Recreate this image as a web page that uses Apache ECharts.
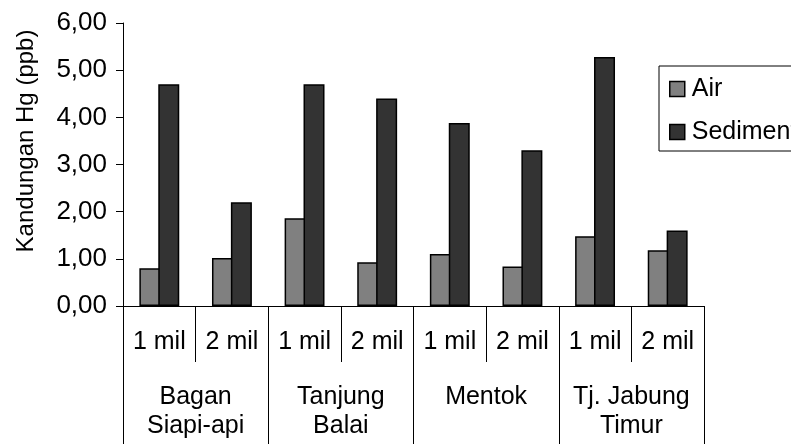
<!DOCTYPE html>
<html>
<head>
<meta charset="utf-8">
<script src="https://cdn.jsdelivr.net/npm/echarts@6/dist/echarts.min.js"></script>
<style>
  html, body { margin: 0; padding: 0; background: #fff; }
  #chart { width: 791px; height: 444px; }
</style>
</head>
<body>
<div id="chart"></div>
<script>
// Distance from shore per sampling point
const distances = ['1 mil', '2 mil', '1 mil', '2 mil', '1 mil', '2 mil', '1 mil', '2 mil'];
// Sampling locations (two distances each)
const locations = ['Bagan\nSiapi-api', 'Tanjung\nBalai', 'Mentok', 'Tj. Jabung\nTimur'];
// Hg content (ppb)
const airValues = [0.80, 1.02, 1.86, 0.93, 1.10, 0.84, 1.48, 1.18];
const sedimenValues = [4.70, 2.20, 4.70, 4.40, 3.88, 3.30, 5.28, 1.60];
// Y axis tick labels (0..6)
const yTickLabels = ['0,00', '1,00', '2,00', '3,00', '4,00', '5,00', '6,00'];

const FONT = 'Liberation Sans, Arial, sans-serif';
const chart = echarts.init(document.getElementById('chart'), null, { renderer: 'canvas' });

chart.setOption({
  animation: false,
  backgroundColor: '#ffffff',
  textStyle: { fontFamily: FONT, color: '#000' },
  grid: { left: 123, right: 87, top: 23, bottom: 138, containLabel: false },
  legend: {
    orient: 'vertical',
    left: 659,
    top: 66,
    padding: [9, 10, 5, 10],
    itemWidth: 15,
    itemHeight: 15,
    itemGap: 15,
    borderColor: '#000',
    borderWidth: 1,
    backgroundColor: '#fff',
    icon: 'rect',
    textStyle: { fontFamily: FONT, fontSize: 25, color: '#000', lineHeight: 28, padding: [0, 0, 0, 2] },
    itemStyle: { borderColor: '#000', borderWidth: 1.5 },
    data: ['Air', 'Sediment']
  },
  graphic: [{
    type: 'text',
    x: 26,
    y: 141,
    rotation: Math.PI / 2,
    style: {
      text: 'Kandungan Hg (ppb)',
      font: '24px ' + FONT,
      fill: '#000',
      align: 'center',
      verticalAlign: 'middle'
    }
  }],
  xAxis: [{
    type: 'category',
    data: distances,
    position: 'bottom',
    axisLine: { show: true, lineStyle: { color: '#000', width: 1 } },
    axisTick: { show: true, interval: 0, length: 56, lineStyle: { color: '#000', width: 1 } },
    axisLabel: { interval: 0, margin: 24, fontSize: 25, fontFamily: FONT, color: '#000', lineHeight: 25 },
    splitLine: { show: false }
  }, {
    type: 'category',
    data: locations,
    position: 'bottom',
    axisLine: { show: false },
    axisTick: { show: true, interval: 0, length: 140, lineStyle: { color: '#000', width: 1 } },
    axisLabel: { interval: 0, margin: 77, fontSize: 25, fontFamily: FONT, color: '#000', lineHeight: 29 },
    splitLine: { show: false }
  }],
  yAxis: {
    type: 'value',
    min: 0,
    max: 6,
    interval: 1,
    axisLine: { show: true, lineStyle: { color: '#000', width: 1 } },
    axisTick: { show: true, length: 7, lineStyle: { color: '#000', width: 1 } },
    axisLabel: {
      margin: 16,
      fontSize: 26,
      fontFamily: FONT,
      color: '#000',
      formatter: function (v) { return yTickLabels[Math.round(v)]; }
    },
    splitLine: { show: false }
  },
  series: [{
    name: 'Air',
    type: 'bar',
    xAxisIndex: 0,
    data: airValues,
    barWidth: 21,
    barGap: '-10%',
    itemStyle: { color: '#808080', borderColor: '#000', borderWidth: 1.5 }
  }, {
    name: 'Sediment',
    type: 'bar',
    xAxisIndex: 0,
    data: sedimenValues,
    barWidth: 21,
    barGap: '-10%',
    itemStyle: { color: '#333333', borderColor: '#000', borderWidth: 1.5 }
  }]
});
</script>
</body>
</html>
